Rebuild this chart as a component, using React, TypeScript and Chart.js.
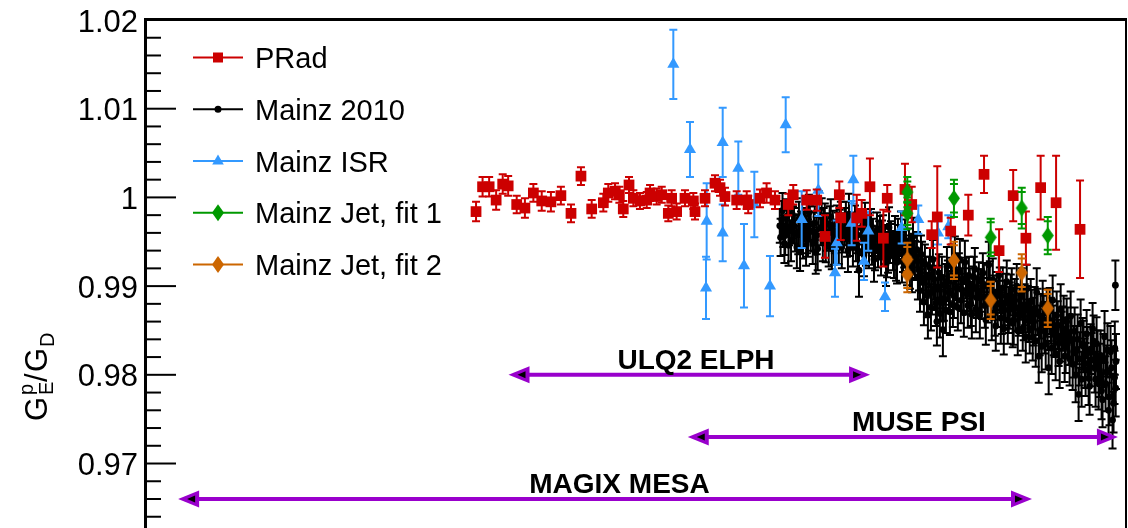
import { useEffect, useRef } from "react";
import { Chart, registerables } from "chart.js";

Chart.register(...registerables);

type Pt = [number, number, number];
type JetPt = [number, number, number, number];

// Q² in GeV², ratio G_E^p / G_D, uncertainty
const prad: Pt[] = [
  [2.21e-4, 0.9984, 0.0011], [2.35e-4, 1.0012, 0.0011], [2.5e-4, 1.0012, 0.0011],
  [2.67e-4, 0.9997, 0.0011], [2.84e-4, 1.0015, 0.0011], [2.99e-4, 1.0013, 0.0011],
  [3.24e-4, 0.9992, 0.001], [3.5e-4, 0.9988, 0.0011], [3.79e-4, 1.0005, 0.001],
  [4.1e-4, 0.9996, 0.0011], [4.47e-4, 0.9995, 0.0011], [4.91e-4, 1.0002, 0.001],
  [5.4e-4, 0.9982, 0.001], [5.93e-4, 1.0024, 0.001], [6.56e-4, 0.9987, 0.001],
  [7.32e-4, 0.9994, 0.001], [7.67e-4, 1.0005, 0.001], [8.17e-4, 1.0007, 0.0009],
  [8.51e-4, 1.0003, 0.0009], [8.83e-4, 0.9987, 0.0009], [9.32e-4, 1.0014, 0.0009],
  [9.71e-4, 0.9999, 0.0009], [1.033e-3, 0.9996, 0.0009], [1.101e-3, 0.9997, 0.0009],
  [1.136e-3, 1.0005, 0.0009], [1.209e-3, 1.0001, 0.0009], [1.268e-3, 1.0003, 0.0009],
  [1.349e-3, 0.9982, 0.0009], [1.392e-3, 0.9999, 0.0009], [1.459e-3, 0.9984, 0.0009],
  [1.578e-3, 0.9999, 0.0009], [1.707e-3, 0.9996, 0.0009], [1.734e-3, 0.9984, 0.0009],
  [1.905e-3, 0.9999, 0.0009], [2.093e-3, 1.0016, 0.0009], [2.194e-3, 1.0011, 0.0009],
  [2.299e-3, 1.0001, 0.001], [2.566e-3, 0.9997, 0.001], [2.82e-3, 0.9997, 0.001],
  [2.86e-3, 0.9992, 0.001], [3.195e-3, 0.9999, 0.001], [3.4e-3, 1.0005, 0.0011],
  [3.68e-3, 0.9997, 0.001], [4.17e-3, 0.9992, 0.0012], [4.37e-3, 1.0003, 0.0011],
  [4.96e-3, 0.9997, 0.0011], [5.45e-3, 0.9997, 0.0012], [5.89e-3, 0.9956, 0.0024],
  [6.74e-3, 1.0003, 0.0015], [6.83e-3, 0.9977, 0.0025], [7.94e-3, 0.9977, 0.0026],
  [8.32e-3, 0.9982, 0.0015], [8.99e-3, 1.0012, 0.0032], [1.02e-2, 0.9954, 0.0032],
  [1.058e-2, 0.9999, 0.0015], [1.25e-2, 1.0009, 0.0029], [1.332e-2, 0.9992, 0.002],
  [1.607e-2, 0.9958, 0.0015], [1.694e-2, 0.9978, 0.0057], [1.922e-2, 0.9962, 0.0015],
  [2.268e-2, 0.998, 0.0023], [2.63e-2, 1.0026, 0.0021], [3.03e-2, 0.994, 0.0024],
  [3.46e-2, 1.0002, 0.0029], [3.9e-2, 0.9954, 0.003], [4.48e-2, 1.0011, 0.0036],
  [5.18e-2, 0.9994, 0.0053], [6.49e-2, 0.9964, 0.0055],
];

const mainz2010: Pt[] = [
  [0.00385, 0.9968, 0.0019], [0.00392, 0.9975, 0.0021], [0.00398, 0.9962, 0.0018],
  [0.00405, 0.9957, 0.0022], [0.00412, 0.9979, 0.0019], [0.0042, 0.9966, 0.002],
  [0.00428, 0.9951, 0.0023], [0.00436, 0.9972, 0.0018], [0.00444, 0.996, 0.0021],
  [0.00452, 0.9944, 0.0024], [0.00461, 0.9976, 0.0019], [0.0047, 0.9964, 0.002],
  [0.00479, 0.9953, 0.0022], [0.00488, 0.9969, 0.0019], [0.00497, 0.9958, 0.0021],
  [0.00506, 0.9983, 0.002], [0.00515, 0.9962, 0.0022], [0.00525, 0.9948, 0.0023],
  [0.00535, 0.9971, 0.0019], [0.00545, 0.9957, 0.0021], [0.00555, 0.9985, 0.0022],
  [0.00566, 0.9966, 0.002], [0.00577, 0.9952, 0.0024], [0.00588, 0.9974, 0.0019],
  [0.00599, 0.9961, 0.0021], [0.0061, 0.9945, 0.0023], [0.00622, 0.9978, 0.002],
  [0.00634, 0.9963, 0.0022], [0.00646, 0.9956, 0.0019], [0.00658, 0.997, 0.0021],
  [0.00671, 0.9949, 0.0024], [0.00684, 0.9975, 0.002], [0.00697, 0.996, 0.0022],
  [0.0071, 0.9967, 0.0021], [0.00724, 0.9953, 0.002], [0.00738, 0.9981, 0.0023],
  [0.00752, 0.9962, 0.0019], [0.00766, 0.9944, 0.0022], [0.00781, 0.9971, 0.002],
  [0.00796, 0.9958, 0.0021], [0.00811, 0.9918, 0.003], [0.00826, 0.9966, 0.0019],
  [0.00842, 0.995, 0.0022], [0.00858, 0.9974, 0.002], [0.00874, 0.9959, 0.0021],
  [0.00891, 0.9943, 0.0023], [0.00908, 0.9968, 0.0019], [0.00925, 0.9955, 0.0021],
  [0.00943, 0.994, 0.0022], [0.00961, 0.9963, 0.002], [0.0098, 0.9952, 0.0021],
  [0.00998, 0.9935, 0.0023], [0.01017, 0.996, 0.002], [0.01036, 0.9947, 0.0022],
  [0.01056, 0.9931, 0.0021], [0.01076, 0.9966, 0.0023], [0.01096, 0.9953, 0.002],
  [0.01117, 0.994, 0.0022], [0.01138, 0.9958, 0.0021], [0.0116, 0.9927, 0.0024],
  [0.01182, 0.9949, 0.002], [0.01204, 0.9962, 0.0022], [0.01227, 0.9937, 0.0021],
  [0.0125, 0.9952, 0.0023], [0.01274, 0.9923, 0.0022], [0.01298, 0.9945, 0.002],
  [0.01323, 0.9933, 0.0024], [0.01348, 0.9956, 0.0021], [0.01373, 0.9929, 0.0022],
  [0.01399, 0.9941, 0.002], [0.01426, 0.9918, 0.0023], [0.01453, 0.9936, 0.0021],
  [0.0148, 0.9904, 0.0024], [0.01508, 0.9925, 0.0022], [0.01537, 0.989, 0.0025],
  [0.01566, 0.9912, 0.0021], [0.01596, 0.9876, 0.0026], [0.01626, 0.993, 0.0022],
  [0.01657, 0.9897, 0.0024], [0.01688, 0.986, 0.0027], [0.0172, 0.9915, 0.0021],
  [0.01753, 0.9885, 0.0025], [0.01786, 0.9851, 0.003], [0.0182, 0.9902, 0.0023],
  [0.01855, 0.9922, 0.0022], [0.0189, 0.9893, 0.0024], [0.01926, 0.9911, 0.0021],
  [0.01962, 0.9879, 0.0025], [0.01999, 0.9934, 0.0022], [0.02037, 0.9898, 0.0023],
  [0.02076, 0.9916, 0.0021], [0.02115, 0.9884, 0.0026], [0.02155, 0.9905, 0.0022],
  [0.02196, 0.9927, 0.0024], [0.02238, 0.9891, 0.0023], [0.0228, 0.9912, 0.0021],
  [0.02323, 0.988, 0.0025], [0.02367, 0.99, 0.0022], [0.02412, 0.9919, 0.0024],
  [0.02458, 0.9887, 0.0023], [0.02505, 0.9906, 0.0021], [0.02552, 0.9895, 0.0024],
  [0.02601, 0.9915, 0.0022], [0.0265, 0.9878, 0.0025], [0.027, 0.9901, 0.0023],
  [0.02751, 0.9924, 0.0026], [0.02803, 0.9886, 0.0022], [0.02856, 0.9907, 0.0024],
  [0.0291, 0.987, 0.0026], [0.02965, 0.9893, 0.0023], [0.03022, 0.9912, 0.0025],
  [0.03079, 0.9864, 0.0029], [0.03137, 0.9898, 0.0023], [0.03197, 0.9881, 0.0025],
  [0.03257, 0.9905, 0.0024], [0.03319, 0.9873, 0.0026], [0.03382, 0.989, 0.0023],
  [0.03446, 0.9858, 0.0027], [0.03511, 0.9884, 0.0024], [0.03578, 0.99, 0.0025],
  [0.03646, 0.9868, 0.0024], [0.03715, 0.9888, 0.0026], [0.03785, 0.9852, 0.0025],
  [0.03857, 0.9879, 0.0023], [0.0393, 0.9897, 0.0027], [0.04004, 0.9861, 0.0024],
  [0.0408, 0.9883, 0.0025], [0.04157, 0.9842, 0.0026], [0.04236, 0.9875, 0.0024],
  [0.04317, 0.9893, 0.0027], [0.044, 0.9821, 0.003], [0.04482, 0.9866, 0.0025],
  [0.04567, 0.988, 0.0026], [0.04653, 0.9849, 0.0025], [0.04741, 0.987, 0.0027],
  [0.04831, 0.9808, 0.003], [0.04923, 0.9861, 0.0026], [0.05016, 0.9884, 0.0028],
  [0.05111, 0.9845, 0.0025], [0.05208, 0.9867, 0.0027], [0.05307, 0.9836, 0.0026],
  [0.05408, 0.9874, 0.0028], [0.0551, 0.9852, 0.0025], [0.05615, 0.9821, 0.0029],
  [0.05721, 0.986, 0.0026], [0.0583, 0.9838, 0.0027], [0.0594, 0.9866, 0.0028],
  [0.06053, 0.9812, 0.0029], [0.06167, 0.9849, 0.0027], [0.06284, 0.9827, 0.0028],
  [0.06403, 0.9778, 0.003], [0.06525, 0.9858, 0.0027], [0.06648, 0.9835, 0.0029],
  [0.06774, 0.9813, 0.0028], [0.06903, 0.9846, 0.0027], [0.07034, 0.9796, 0.003],
  [0.07167, 0.9829, 0.0028], [0.07303, 0.9852, 0.0029], [0.07441, 0.9808, 0.0028],
  [0.07582, 0.9835, 0.003], [0.07726, 0.979, 0.0029], [0.07872, 0.9822, 0.0028],
  [0.08021, 0.9772, 0.0031], [0.08173, 0.9843, 0.0029], [0.08328, 0.9803, 0.003],
  [0.08486, 0.976, 0.0031], [0.08646, 0.9826, 0.0029], [0.0881, 0.9749, 0.0032],
  [0.08977, 0.9797, 0.003], [0.0905, 0.9901, 0.0028], [0.091, 0.9815, 0.0031],
  // second beam-energy settings, interleaved in Q²
  [0.00402, 0.9948, 0.0022], [0.00432, 0.9982, 0.002], [0.00466, 0.994, 0.0023],
  [0.00502, 0.9954, 0.0021], [0.0054, 0.9938, 0.0024], [0.00582, 0.9968, 0.002],
  [0.00628, 0.9942, 0.0023], [0.00677, 0.9965, 0.0021], [0.00731, 0.994, 0.0024],
  [0.00788, 0.995, 0.0022], [0.0085, 0.9935, 0.0024], [0.00916, 0.9946, 0.0022],
  [0.00988, 0.9958, 0.0021], [0.01066, 0.9938, 0.0023], [0.0115, 0.993, 0.0024],
  [0.0124, 0.9943, 0.0022], [0.01335, 0.9918, 0.0025], [0.0144, 0.9895, 0.0024],
  [0.01467, 0.9928, 0.0022], [0.01494, 0.9882, 0.0026], [0.01522, 0.991, 0.0023],
  [0.01551, 0.9868, 0.0027], [0.01581, 0.9921, 0.0022], [0.01611, 0.9893, 0.0025],
  [0.01641, 0.9908, 0.0023], [0.01672, 0.9881, 0.0026], [0.01704, 0.9899, 0.0024],
  [0.01736, 0.9869, 0.0027], [0.01769, 0.991, 0.0023], [0.01803, 0.9886, 0.0025],
  [0.01837, 0.9873, 0.0026], [0.01872, 0.9906, 0.0023], [0.01908, 0.9871, 0.0026],
  [0.01944, 0.9925, 0.0022], [0.01981, 0.9889, 0.0025], [0.02018, 0.9908, 0.0024],
  [0.02056, 0.9876, 0.0026], [0.02095, 0.993, 0.0023], [0.02135, 0.9896, 0.0024],
  [0.02175, 0.987, 0.0027], [0.02217, 0.9909, 0.0023], [0.02259, 0.9878, 0.0025],
  [0.02301, 0.9896, 0.0024], [0.02345, 0.9868, 0.0027], [0.02389, 0.991, 0.0023],
  [0.02435, 0.9874, 0.0026], [0.02481, 0.9895, 0.0024], [0.02528, 0.9868, 0.0027],
  [0.02576, 0.9888, 0.0025], [0.02625, 0.9902, 0.0024], [0.02675, 0.9862, 0.0028],
  [0.02725, 0.9884, 0.0025], [0.02777, 0.9905, 0.0023], [0.02829, 0.9866, 0.0027],
  [0.02883, 0.9887, 0.0025], [0.02937, 0.9855, 0.0028], [0.02993, 0.988, 0.0026],
  [0.0305, 0.9897, 0.0024], [0.03108, 0.9872, 0.0026], [0.03167, 0.9852, 0.0029],
  [0.03227, 0.9889, 0.0025], [0.03288, 0.9862, 0.0027], [0.0335, 0.9878, 0.0026],
  [0.03414, 0.9896, 0.0024], [0.03478, 0.9862, 0.0028], [0.03544, 0.9875, 0.0026],
  [0.03612, 0.985, 0.0028], [0.0368, 0.9873, 0.0026], [0.0375, 0.9895, 0.0025],
  [0.03821, 0.9866, 0.0027], [0.03893, 0.9843, 0.0029], [0.03967, 0.9874, 0.0026],
  [0.04042, 0.9852, 0.0028], [0.04118, 0.987, 0.0026], [0.04196, 0.986, 0.0027],
  [0.04276, 0.9838, 0.0029], [0.04357, 0.9871, 0.0026], [0.0444, 0.985, 0.0028],
  [0.04524, 0.9832, 0.0029], [0.0461, 0.9862, 0.0027], [0.04697, 0.9835, 0.0029],
  [0.04786, 0.9855, 0.0027], [0.04877, 0.9872, 0.0026], [0.04969, 0.983, 0.0029],
  [0.05063, 0.985, 0.0028], [0.05159, 0.9824, 0.003], [0.05257, 0.9856, 0.0027],
  [0.05357, 0.9815, 0.003], [0.05458, 0.9843, 0.0028], [0.05562, 0.9862, 0.0027],
  [0.05667, 0.9831, 0.0029], [0.05774, 0.9848, 0.0028], [0.05884, 0.9818, 0.003],
  [0.05996, 0.984, 0.0028], [0.0611, 0.9826, 0.0029], [0.06225, 0.98, 0.0031],
  [0.06343, 0.984, 0.0028], [0.06464, 0.9818, 0.003], [0.06586, 0.9795, 0.0031],
  [0.06711, 0.9832, 0.0029], [0.06838, 0.9806, 0.003], [0.06968, 0.9825, 0.0029],
  [0.071, 0.9787, 0.0032], [0.07235, 0.9817, 0.003], [0.07372, 0.9838, 0.0029],
  [0.07512, 0.9795, 0.0031], [0.07654, 0.982, 0.003], [0.07799, 0.9805, 0.003],
  [0.07946, 0.9782, 0.0032], [0.08097, 0.9816, 0.003], [0.0825, 0.979, 0.0031],
  [0.08406, 0.9828, 0.003], [0.08565, 0.9775, 0.0032], [0.08727, 0.9808, 0.0031],
  [0.08893, 0.9768, 0.0033], [0.09, 0.983, 0.003], [0.09075, 0.9785, 0.0032],
  // third setting, low Q²
  [0.00388, 0.9955, 0.0021], [0.00395, 0.9985, 0.002], [0.00418, 0.9946, 0.0023],
  [0.0044, 0.9968, 0.002], [0.00458, 0.9958, 0.0022], [0.00475, 0.998, 0.0019],
  [0.00493, 0.9946, 0.0023], [0.00511, 0.997, 0.002], [0.0053, 0.9961, 0.0022],
  [0.0055, 0.9942, 0.0024], [0.00571, 0.9979, 0.002], [0.00593, 0.995, 0.0023],
  [0.00616, 0.9969, 0.0021], [0.0064, 0.9947, 0.0023], [0.00664, 0.9962, 0.0021],
  [0.0069, 0.9944, 0.0024], [0.00717, 0.9975, 0.002], [0.00745, 0.9956, 0.0022],
  [0.00773, 0.9962, 0.0021], [0.00803, 0.994, 0.0024], [0.00834, 0.9957, 0.0022],
  [0.00866, 0.9946, 0.0023], [0.00899, 0.9962, 0.0021], [0.00934, 0.993, 0.0025],
  [0.0097, 0.9944, 0.0023], [0.01007, 0.9952, 0.0022], [0.01046, 0.9925, 0.0025],
  [0.01086, 0.9948, 0.0022], [0.01127, 0.9933, 0.0024], [0.0117, 0.9955, 0.0021],
  [0.01215, 0.9928, 0.0024], [0.01262, 0.994, 0.0023], [0.0131, 0.9922, 0.0025],
  [0.0136, 0.9936, 0.0023], [0.01412, 0.991, 0.0025],
];

const mainzISR: Pt[] = [
  [1.414e-3, 1.015, 0.0039], [1.654e-3, 1.0054, 0.0031], [1.935e-3, 0.9973, 0.0043],
  [1.923e-3, 0.9898, 0.0035], [2.25e-3, 1.0062, 0.0039], [2.25e-3, 0.996, 0.0032],
  [2.606e-3, 1.0033, 0.003], [2.749e-3, 0.9923, 0.0047], [3.03e-3, 0.9992, 0.0037],
  [3.51e-3, 0.99, 0.0034], [4.07e-3, 1.0082, 0.0031], [4.73e-3, 0.9975, 0.0032],
  [5.53e-3, 1.0008, 0.0029], [6.47e-3, 0.9915, 0.0027], [6.58e-3, 0.9949, 0.0025],
  [7.57e-3, 0.9971, 0.0025], [7.69e-3, 1.002, 0.0027], [8.5e-3, 0.9928, 0.0021],
  [8.85e-3, 0.9962, 0.0022], [1.036e-2, 0.9888, 0.0016], [1.212e-2, 0.9966, 0.0018],
  [1.417e-2, 0.9975, 0.0016], [1.706e-2, 0.996, 0.0013], [1.879e-2, 0.9967, 0.0013],
];

// Q², ratio, total uncertainty, statistical uncertainty
const jetFit1: JetPt[] = [
  [1.278e-2, 1.0006, 0.0017, 0.0012], [1.278e-2, 0.9982, 0.0018, 0.0013],
  [1.982e-2, 0.9999, 0.0021, 0.0016], [2.8e-2, 0.9955, 0.0021, 0.0017],
  [3.75e-2, 0.9988, 0.0023, 0.0018], [4.79e-2, 0.9957, 0.0021, 0.0016],
];
const jetFit2: JetPt[] = [
  [1.278e-2, 0.993, 0.0019, 0.0014], [1.278e-2, 0.9913, 0.002, 0.0015],
  [1.982e-2, 0.9929, 0.0021, 0.0017], [2.8e-2, 0.9884, 0.0021, 0.0016],
  [3.75e-2, 0.9915, 0.0021, 0.0016], [4.79e-2, 0.9875, 0.0021, 0.0016],
];

const seriesNames = ["PRad", "Mainz 2010", "Mainz ISR", "Mainz Jet, fit 1", "Mainz Jet, fit 2"];
const seriesColors = ["#cc0000", "#000000", "#3399ff", "#009900", "#cc6600"];

// Kinematic reach of planned experiments
const rangeNames = ["ULQ2 ELPH", "MUSE PSI", "MAGIX MESA"];
const rangeFrom = [3.0e-4, 1.62e-3, 1.34e-5];
const rangeTo = [9.0e-3, 0.0927, 0.0413];
const rangeLevel = [0.98, 0.973, 0.966];
const rangeLabelAt = [1.75e-3, 1.426e-2, 8.52e-4];

const majorTicks = [0.97, 0.98, 0.99, 1.0, 1.01, 1.02];
const majorLabels = ["0.97", "0.98", "0.99", "1", "1.01", "1.02"];

const Q2_MIN = 1e-5;
const Q2_MAX = 0.1;
const Y_MIN = 0.96273;
const Y_MAX = 1.02;

const W = 1128;
const H = 528;
const FONT = "'Liberation Sans', Arial, Helvetica, sans-serif";
const PURPLE = "#9900cc";

function diamondImage(color: string) {
  const c = document.createElement("canvas");
  c.width = 14;
  c.height = 19;
  const g = c.getContext("2d")!;
  g.fillStyle = color;
  g.beginPath();
  g.moveTo(7, 1);
  g.lineTo(13, 9.5);
  g.lineTo(7, 18);
  g.lineTo(1, 9.5);
  g.closePath();
  g.fill();
  return c;
}

function drawMarker(ctx: CanvasRenderingContext2D, kind: number, x: number, y: number, color: string) {
  ctx.fillStyle = color;
  ctx.beginPath();
  if (kind === 0) {
    ctx.rect(x - 5, y - 5, 10, 10);
  } else if (kind === 1) {
    ctx.arc(x, y, 3.5, 0, Math.PI * 2);
  } else if (kind === 2) {
    ctx.moveTo(x, y - 6.5);
    ctx.lineTo(x + 5.8, y + 3.5);
    ctx.lineTo(x - 5.8, y + 3.5);
    ctx.closePath();
  } else {
    ctx.moveTo(x, y - 8.5);
    ctx.lineTo(x + 6, y);
    ctx.lineTo(x, y + 8.5);
    ctx.lineTo(x - 6, y);
    ctx.closePath();
  }
  ctx.fill();
}

const errorBars = {
  id: "errorBars",
  beforeDatasetDraw(chart: any, args: any) {
    const ds = chart.data.datasets[args.index];
    const { ctx, chartArea } = chart;
    const x = chart.scales.x;
    const y = chart.scales.y;
    ctx.save();
    ctx.beginPath();
    ctx.rect(chartArea.left, chartArea.top, chartArea.right - chartArea.left, chartArea.bottom - chartArea.top);
    ctx.clip();
    ctx.strokeStyle = ds.borderColor;
    ctx.lineWidth = 2;
    const cap = 4;
    for (const p of ds.data) {
      const px = x.getPixelForValue(p.x);
      const top = y.getPixelForValue(p.y + p.err);
      const bot = y.getPixelForValue(p.y - p.err);
      ctx.beginPath();
      ctx.moveTo(px, top);
      ctx.lineTo(px, bot);
      ctx.moveTo(px - cap, top);
      ctx.lineTo(px + cap, top);
      ctx.moveTo(px - cap, bot);
      ctx.lineTo(px + cap, bot);
      if (p.stat) {
        const t2 = y.getPixelForValue(p.y + p.stat);
        const b2 = y.getPixelForValue(p.y - p.stat);
        ctx.moveTo(px - cap, t2);
        ctx.lineTo(px + cap, t2);
        ctx.moveTo(px - cap, b2);
        ctx.lineTo(px + cap, b2);
      }
      ctx.stroke();
    }
    ctx.restore();
  },
};

function arrowHead(ctx: CanvasRenderingContext2D, tip: number, y: number, dir: number) {
  ctx.fillStyle = PURPLE;
  ctx.beginPath();
  ctx.moveTo(tip, y);
  ctx.lineTo(tip - dir * 21, y - 8.5);
  ctx.lineTo(tip - dir * 21, y + 8.5);
  ctx.closePath();
  ctx.fill();
  ctx.fillStyle = "#000";
  ctx.beginPath();
  ctx.moveTo(tip - dir * 9, y);
  ctx.lineTo(tip - dir * 17, y - 3.5);
  ctx.lineTo(tip - dir * 17, y + 3.5);
  ctx.closePath();
  ctx.fill();
}

const frame = {
  id: "frame",
  afterDraw(chart: any) {
    const { ctx, chartArea } = chart;
    const x = chart.scales.x;
    const y = chart.scales.y;
    const L = chartArea.left;
    const R = chartArea.right;
    const T = chartArea.top;
    const B = chartArea.bottom;
    ctx.save();

    // ranges of planned experiments
    for (let i = 0; i < rangeNames.length; i++) {
      const x1 = x.getPixelForValue(rangeFrom[i]);
      const x2 = x.getPixelForValue(rangeTo[i]);
      const yy = y.getPixelForValue(rangeLevel[i]);
      ctx.strokeStyle = PURPLE;
      ctx.lineWidth = 4;
      ctx.beginPath();
      ctx.moveTo(x1 + 10, yy);
      ctx.lineTo(x2 - 10, yy);
      ctx.stroke();
      arrowHead(ctx, x1, yy, -1);
      arrowHead(ctx, x2, yy, 1);
      ctx.fillStyle = "#000";
      ctx.font = `bold 28px ${FONT}`;
      ctx.textAlign = "center";
      ctx.textBaseline = "alphabetic";
      ctx.fillText(rangeNames[i], x.getPixelForValue(rangeLabelAt[i]), yy - 5.5);
    }

    // frame
    ctx.strokeStyle = "#000";
    ctx.lineWidth = 3;
    ctx.beginPath();
    ctx.moveTo(L - 3, T - 0.5);
    ctx.lineTo(R + 1, T - 0.5);
    ctx.stroke();
    ctx.beginPath();
    ctx.moveTo(L - 1.5, T - 2);
    ctx.lineTo(L - 1.5, B);
    ctx.stroke();
    ctx.lineWidth = 2;
    ctx.beginPath();
    ctx.moveTo(R, T - 2);
    ctx.lineTo(R, B);
    ctx.stroke();

    // y ticks
    ctx.lineWidth = 2;
    for (let k = 0; k < majorTicks.length; k++) {
      const base = majorTicks[k];
      const py = y.getPixelForValue(base);
      ctx.beginPath();
      ctx.moveTo(L, py);
      ctx.lineTo(L + 29, py);
      ctx.stroke();
      for (let m = 1; m < 5; m++) {
        const v = base - m * 0.002;
        if (v < Y_MIN) break;
        const pm = y.getPixelForValue(v);
        ctx.beginPath();
        ctx.moveTo(L, pm);
        ctx.lineTo(L + 14, pm);
        ctx.stroke();
      }
    }
    ctx.fillStyle = "#000";
    ctx.font = `31px ${FONT}`;
    ctx.textAlign = "right";
    ctx.textBaseline = "alphabetic";
    for (let k = 0; k < majorTicks.length; k++) {
      ctx.fillText(majorLabels[k], 138, y.getPixelForValue(majorTicks[k]) + 11.5);
    }

    // y title: G_E^p / G_D
    ctx.save();
    ctx.translate(47, 421);
    ctx.rotate(-Math.PI / 2);
    ctx.textAlign = "left";
    ctx.font = `31px ${FONT}`;
    ctx.fillText("G", 0, 0);
    ctx.font = `20px ${FONT}`;
    ctx.fillText("p", 26, -14);
    ctx.fillText("E", 26, 6);
    ctx.font = `31px ${FONT}`;
    ctx.fillText("/", 39, 0);
    ctx.fillText("G", 49, 0);
    ctx.font = `20px ${FONT}`;
    ctx.fillText("D", 74, 7);
    ctx.restore();

    // legend
    ctx.font = `29px ${FONT}`;
    ctx.textAlign = "left";
    for (let i = 0; i < seriesNames.length; i++) {
      const base = 68 + i * 51.75;
      const my = base - 10.5;
      ctx.strokeStyle = seriesColors[i];
      ctx.lineWidth = 2;
      ctx.beginPath();
      ctx.moveTo(193, my);
      ctx.lineTo(243, my);
      ctx.stroke();
      drawMarker(ctx, Math.min(i, 3), 218, my, seriesColors[i]);
      ctx.fillStyle = "#000";
      ctx.fillText(seriesNames[i], 255, base);
    }
    ctx.restore();
  },
};

export default function App() {
  const ref = useRef<HTMLCanvasElement>(null);

  useEffect(() => {
    const canvas = ref.current!;
    const toPts = (arr: Pt[]) => arr.map((p) => ({ x: p[0], y: p[1], err: p[2] }));
    const toJet = (arr: JetPt[]) => arr.map((p) => ({ x: p[0], y: p[1], err: p[2], stat: p[3] }));
    const styles: any[] = ["rect", "circle", "triangle", diamondImage(seriesColors[3]), diamondImage(seriesColors[4])];
    const radii = [7.6, 3.4, 7, 7, 7];
    const drawOrder = [2, 4, 3, 1, 0];
    const sets = [toPts(prad), toPts(mainz2010), toPts(mainzISR), toJet(jetFit1), toJet(jetFit2)];

    const chart = new Chart(canvas, {
      type: "scatter",
      data: {
        datasets: sets.map((d, i) => ({
          label: seriesNames[i],
          data: d,
          order: drawOrder[i],
          pointStyle: styles[i],
          pointRadius: radii[i],
          pointHoverRadius: radii[i],
          backgroundColor: seriesColors[i],
          borderColor: seriesColors[i],
          borderWidth: 0,
          showLine: false,
        })),
      },
      options: {
        responsive: false,
        maintainAspectRatio: false,
        devicePixelRatio: 1,
        animation: false,
        events: [],
        layout: { autoPadding: false, padding: { left: 147, right: 2, top: 20, bottom: 0 } },
        scales: {
          x: { type: "logarithmic", min: Q2_MIN, max: Q2_MAX, display: false },
          y: { type: "linear", min: Y_MIN, max: Y_MAX, display: false },
        },
        plugins: {
          legend: { display: false },
          tooltip: { enabled: false },
        },
      },
      plugins: [errorBars, frame],
    });
    return () => chart.destroy();
  }, []);

  return (
    <div style={{ position: "fixed", left: 0, top: 0, width: W, height: H, background: "#fff" }}>
      <canvas ref={ref} width={W} height={H} style={{ width: W, height: H, display: "block" }} />
    </div>
  );
}
